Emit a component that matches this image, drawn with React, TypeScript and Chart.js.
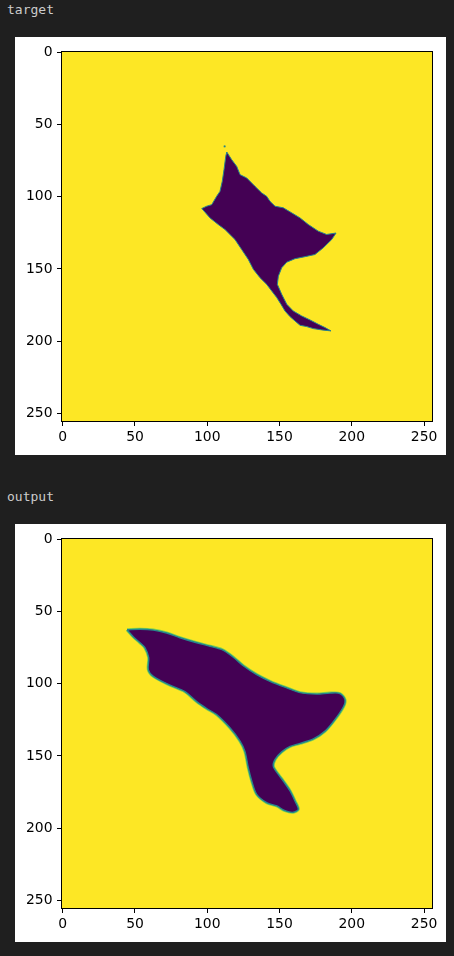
import { useEffect, useRef } from "react";
import { Chart, registerables } from "chart.js";

Chart.register(...registerables);

// Pixel grid is 256 x 256, indices 0..255 (cell edges at -0.5 and 255.5).
const GRID_MIN = -0.5;
const GRID_MAX = 255.5;
const AXIS_TICKS = [0, 50, 100, 150, 200, 250];

// Mask outline of the reference segmentation (column, row).
const TARGET_X = [
  113.5, 116.9, 120.4, 122.7, 127.3, 133.0, 137.7, 141.1, 143.4, 146.9, 152.6, 158.4,
  164.2, 169.9, 176.8, 182.6, 189.1, 186.1, 180.3, 174.5, 167.6, 160.7, 155.0, 151.5,
  149.2, 148.5, 151.5, 155.0, 159.5, 165.3, 171.1, 176.8, 181.5, 185.6, 179.2, 173.4,
  168.8, 164.2, 160.7, 157.3, 153.8, 151.0, 148.1, 144.6, 141.1, 136.5, 131.9, 128.4,
  123.8, 119.2, 116.9, 112.3, 107.6, 101.9, 96.2, 99.6, 103.1, 106.5, 108.8, 110.4,
  111.6, 112.8,
];
const TARGET_Y = [
  68.9, 74.2, 78.9, 84.6, 86.9, 92.7, 97.3, 99.6, 103.1, 106.5, 107.6, 111.1,
  114.6, 119.2, 123.8, 126.1, 125.1, 129.6, 135.3, 140.0, 141.5, 142.9, 145.3, 149.2,
  155.0, 160.7, 167.6, 174.5, 179.2, 182.6, 185.4, 188.4, 190.7, 193.0, 192.3, 191.4,
  190.0, 189.1, 186.1, 183.1, 179.2, 174.5, 169.9, 165.3, 160.7, 156.1, 150.3, 143.4,
  136.5, 129.6, 127.3, 122.7, 119.2, 114.6, 108.1, 106.5, 105.4, 99.6, 96.2, 89.2,
  81.1, 71.9,
];
// Single detached pixel above the top spike.
const TARGET_SPECK_X = [112];
const TARGET_SPECK_Y = [65];

// Mask outline of the predicted segmentation (column, row).
const OUTPUT_X = [
  44.5, 53.5, 62.7, 71.9, 81.1, 92.7, 101.9, 110.2, 118.0, 124.9, 134.2, 143.4,
  155.0, 164.2, 175.7, 184.9, 191.8, 195.3, 194.3, 188.4, 181.5, 173.4, 164.2, 157.3,
  151.5, 146.9, 145.7, 149.2, 152.6, 157.3, 160.7, 163.0, 159.5, 153.8, 148.1, 141.1,
  134.2, 130.8, 128.4, 126.1, 122.7, 115.7, 106.5, 99.6, 92.7, 84.6, 74.2, 62.7,
  59.2, 59.5, 56.9, 53.5, 48.8,
];
const OUTPUT_Y = [
  62.5, 62.1, 62.7, 64.7, 68.0, 71.5, 73.9, 76.3, 81.5, 87.4, 93.6, 98.2,
  102.8, 106.1, 107.1, 106.4, 106.7, 110.9, 115.7, 124.7, 132.8, 138.2, 141.3, 143.4,
  147.2, 152.4, 157.3, 162.8, 167.4, 174.3, 181.3, 187.0, 189.1, 188.0, 184.7, 182.4,
  176.6, 167.4, 158.2, 146.9, 139.7, 130.5, 121.3, 117.1, 112.3, 105.4, 100.9, 94.8,
  90.1, 81.8, 74.9, 71.5, 67.3,
];

// viridis end points and edge tones
const FIELD = "#fde725";
const MASK = "#440154";
const EDGE_TEAL = "#25848e";
const EDGE_GREEN = "#7ad151";

const PANEL_W = 431;
const PANEL_H = 418;

function closedPath(xs: number[], ys: number[]) {
  const pts = xs.map((x, i) => ({ x, y: ys[i] }));
  pts.push({ ...pts[0] });
  return pts;
}

// Fills the plot area with the background level of the colormap.
const fieldPlugin = {
  id: "field",
  beforeDatasetsDraw(chart: any) {
    const { ctx, chartArea } = chart;
    ctx.save();
    ctx.fillStyle = FIELD;
    ctx.fillRect(chartArea.left, chartArea.top, chartArea.width, chartArea.height);
    ctx.restore();
  },
};

// Black frame around the plot area.
const framePlugin = {
  id: "frame",
  afterDraw(chart: any) {
    const { ctx, chartArea } = chart;
    ctx.save();
    ctx.strokeStyle = "#000";
    ctx.lineWidth = 1;
    ctx.strokeRect(
      Math.round(chartArea.left) - 0.5,
      Math.round(chartArea.top) - 0.5,
      Math.round(chartArea.width) + 1,
      Math.round(chartArea.height) + 1
    );
    ctx.restore();
  },
};

function softenPlugin(radius: number) {
  return {
    id: "soften",
    beforeDatasetsDraw(chart: any) {
      if (radius > 0) chart.ctx.filter = `blur(${radius}px)`;
    },
    afterDatasetsDraw(chart: any) {
      chart.ctx.filter = "none";
    },
  };
}

function axis(reverse: boolean, isX: boolean) {
  return {
    type: "linear" as const,
    min: GRID_MIN,
    max: GRID_MAX,
    reverse,
    afterBuildTicks: (scale: any) => {
      scale.ticks = AXIS_TICKS.map((value) => ({ value }));
    },
    afterFit: (scale: any) => {
      if (isX) scale.height = 34;
      else scale.width = 47;
    },
    grid: {
      drawOnChartArea: false,
      drawTicks: true,
      tickLength: 5,
      tickWidth: 1,
      tickColor: "#000",
      color: "#000",
    },
    border: { display: false },
    ticks: {
      color: "#000",
      font: { family: "'DejaVu Sans'", size: 13.9 },
      padding: isX ? 3 : 4.5,
      maxRotation: 0,
      autoSkip: false,
    },
  };
}

function MaskPanel({ datasets, blur }: { datasets: any[]; blur: number }) {
  const ref = useRef<HTMLCanvasElement | null>(null);
  useEffect(() => {
    if (!ref.current) return;
    const chart = new Chart(ref.current, {
      type: "scatter",
      data: { datasets },
      options: {
        responsive: false,
        maintainAspectRatio: false,
        animation: false,
        events: [],
        layout: { padding: { top: 15, right: 14, left: 0, bottom: 0 } },
        plugins: { legend: { display: false }, tooltip: { enabled: false } },
        scales: { x: axis(false, true), y: axis(true, false) },
      },
      plugins: [fieldPlugin, softenPlugin(blur), framePlugin],
    } as any);
    return () => chart.destroy();
  }, [datasets, blur]);
  return (
    <div style={{ width: PANEL_W, height: PANEL_H, background: "#fff" }}>
      <canvas ref={ref} width={PANEL_W} height={PANEL_H} style={{ width: PANEL_W, height: PANEL_H, display: "block" }} />
    </div>
  );
}

const targetSets = [
  {
    data: closedPath(TARGET_X, TARGET_Y),
    showLine: true,
    fill: "shape",
    backgroundColor: MASK,
    borderColor: EDGE_TEAL,
    borderWidth: 1,
    tension: 0,
    pointRadius: 0,
    order: 1,
  },
  {
    data: closedPath(TARGET_SPECK_X, TARGET_SPECK_Y),
    showLine: false,
    pointStyle: "rect",
    pointRadius: 1.1,
    backgroundColor: EDGE_TEAL,
    borderWidth: 0,
    order: 0,
  },
];

const outputSets = [
  {
    data: closedPath(OUTPUT_X, OUTPUT_Y),
    showLine: true,
    fill: "shape",
    backgroundColor: MASK,
    borderColor: EDGE_TEAL,
    borderWidth: 1.4,
    tension: 0.3,
    pointRadius: 0,
    order: 1,
  },
  {
    data: closedPath(OUTPUT_X, OUTPUT_Y),
    showLine: true,
    fill: false,
    borderColor: EDGE_GREEN,
    borderWidth: 3,
    tension: 0.3,
    pointRadius: 0,
    order: 2,
  },
];

const labelStyle: React.CSSProperties = {
  position: "absolute",
  left: 7,
  fontFamily: "'DejaVu Sans Mono', monospace",
  fontSize: 13,
  lineHeight: "13px",
  color: "#cccccc",
  margin: 0,
};

export default function App() {
  return (
    <div style={{ position: "fixed", inset: 0, background: "#1f1f1f", overflow: "hidden" }}>
      <div style={{ ...labelStyle, top: 3 }}>target</div>
      <div style={{ position: "absolute", left: 15, top: 37 }}>
        <MaskPanel datasets={targetSets} blur={0} />
      </div>
      <div style={{ ...labelStyle, top: 490 }}>output</div>
      <div style={{ position: "absolute", left: 15, top: 524 }}>
        <MaskPanel datasets={outputSets} blur={0.6} />
      </div>
    </div>
  );
}
